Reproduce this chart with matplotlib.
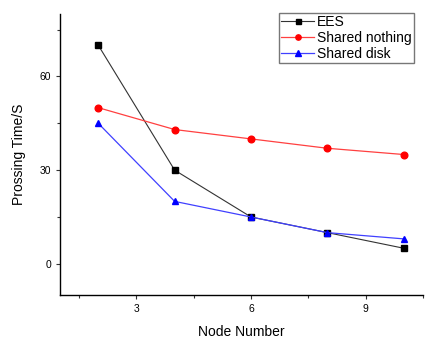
import matplotlib
matplotlib.use("Agg")
import matplotlib.pyplot as plt
from matplotlib.ticker import MultipleLocator

plt.rcParams['font.family'] = ['Liberation Sans', 'DejaVu Sans']

nodes = [2, 4, 6, 8, 10]
ees = [70, 30, 15, 10, 5]
shared_nothing = [50, 43, 40, 37, 35]
shared_disk = [45, 20, 15, 10, 8]

fig = plt.figure(figsize=(4.32, 3.4), dpi=100)
ax = fig.add_axes([0.139, 0.132, 0.840, 0.827])

ax.plot(nodes, ees, color='#333333', lw=0.8, marker='s', ms=4.5, mfc='black', mec='black', label='EES')
ax.plot(nodes, shared_nothing, color='#ff4040', lw=0.9, marker='o', ms=4.8, mfc='red', mec='red', label='Shared nothing')
ax.plot(nodes, shared_disk, color='#4040ff', lw=0.9, marker='^', ms=5, mfc='blue', mec='blue', label='Shared disk')

ax.set_xlim(1.0, 10.5)
ax.set_ylim(-10, 80)
ax.xaxis.set_major_locator(MultipleLocator(3))
ax.xaxis.set_minor_locator(MultipleLocator(1.5))
ax.yaxis.set_major_locator(MultipleLocator(30))
ax.yaxis.set_minor_locator(MultipleLocator(15))
ax.tick_params(which='both', direction='out', length=3, width=0.8, labelsize=7.5, color='#333333')
ax.tick_params(which='minor', length=2.5)
for s in ['top', 'right']:
    ax.spines[s].set_visible(False)
for s in ['left', 'bottom']:
    ax.spines[s].set_linewidth(1.0)

ax.set_xlabel('Node Number', fontsize=10, labelpad=8)
ax.set_ylabel('Prossing Time/S', fontsize=10, labelpad=10)

leg = ax.legend(loc='upper right', bbox_to_anchor=(0.975, 1.005), fontsize=10, frameon=True, fancybox=False,
                edgecolor='#555555', handlelength=2.4, handletextpad=0.2, borderpad=0.15, labelspacing=0.15,
                borderaxespad=0, markerscale=0.8)
leg.get_frame().set_linewidth(1.0)

fig.savefig('out.png', dpi=100)
